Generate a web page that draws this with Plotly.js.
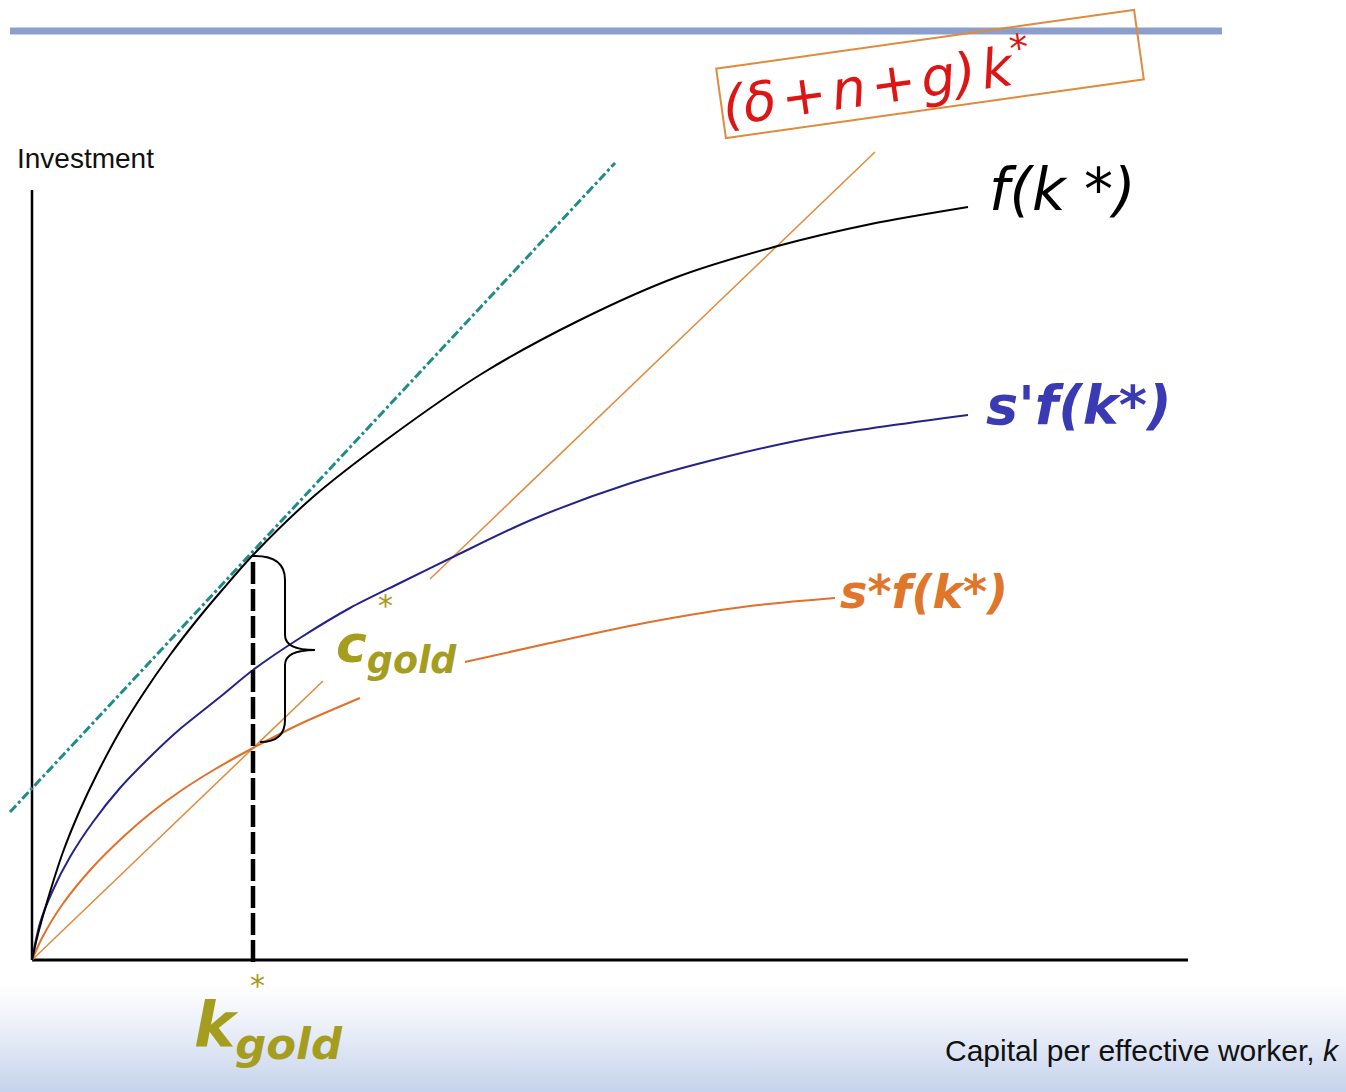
<!DOCTYPE html>
<html>
<head>
<meta charset="utf-8">
<script src="https://cdn.plot.ly/plotly-3.0.1.min.js"></script>
<style>
  html, body { margin: 0; padding: 0; }
  body { width: 1346px; height: 1092px; overflow: hidden;
    background: linear-gradient(to bottom, #ffffff 0px, #ffffff 985px, #e9eef8 1030px, #c6d3ec 1092px); }
  #chart { width: 1346px; height: 1092px; }
</style>
</head>
<body>
<div id="chart"></div>
<script>
// ---- data (k = capital per effective worker, y = investment / output) ----
const fK = [0, 0.05, 0.15, 0.31, 0.48, 0.65, 0.88, 1.11, 1.38, 1.65, 1.91, 2.21, 2.81, 3.54, 4.51, 5.48, 6.45, 7.42, 8.39, 9.36];
const fY = [0, 0.22, 0.58, 1.08, 1.50, 1.86, 2.29, 2.66, 3.05, 3.40, 3.71, 4.05, 4.63, 5.20, 5.87, 6.40, 6.83, 7.13, 7.36, 7.53];

const sPrimeK = [0, 0.08, 0.21, 0.38, 0.61, 0.88, 1.21, 1.48, 1.88, 2.21, 2.68, 3.18, 3.68, 4.23, 4.99, 5.96, 6.93, 7.90, 9.36];
const sPrimeY = [0, 0.37, 0.70, 1.03, 1.38, 1.72, 2.06, 2.31, 2.63, 2.90, 3.22, 3.52, 3.77, 4.04, 4.40, 4.76, 5.03, 5.24, 5.45];

const sStarK = [0, 0.10, 0.30, 0.60, 0.90, 1.20, 1.50, 1.80, 2.21, 2.68, 3.28, null, 4.33, 5.18, 6.18, 7.18, 8.03];
const sStarY = [0, 0.22, 0.55, 0.92, 1.22, 1.48, 1.70, 1.89, 2.12, 2.36, 2.62, null, 2.98, 3.17, 3.38, 3.54, 3.62];

const depK = [0, 2.91, null, 3.98, 8.43];
const depY = [0, 2.79, null, 3.81, 8.08];

const tangentK = [-0.22, 5.83];
const tangentY = [1.48, 7.97];

const kGold = 2.21;
const goldK = [kGold, kGold];
const goldY = [-0.02, 4.05];

const axisYK = [0, 0];       const axisYY = [0, 7.70];
const axisXK = [0, 11.56];   const axisXY = [0, 0];
const topBarK = [-0.22, 11.9]; const topBarY = [9.29, 9.29];

// ---- traces ----
const line = (x, y, color, width, dash, smooth) => ({
  x, y, type: 'scatter', mode: 'lines', hoverinfo: 'skip', showlegend: false,
  connectgaps: false,
  line: { color, width, dash: dash || 'solid', shape: smooth ? 'spline' : 'linear', smoothing: 0.8 }
});

const traces = [
  line(topBarK, topBarY, '#8c9fcc', 7),
  line(axisYK, axisYY, '#000000', 2.5),
  line(axisXK, axisXY, '#000000', 3),
  line(tangentK, tangentY, '#1f8b8b', 3, 'dashdot'),
  line(depK, depY, '#e08a3c', 1.5),
  line(sStarK, sStarY, '#e0702a', 2, null, true),
  line(sPrimeK, sPrimeY, '#232389', 2, null, true),
  line(fK, fY, '#000000', 2, null, true),
  line(goldK, goldY, '#000000', 4.5, '22px,5px')
];

const italic = (size, color, weight) => ({ family: 'DejaVu Sans', size, color, style: 'italic', weight: weight || 'normal' });
const olive = '#a59d1e';

const layout = {
  width: 1346, height: 1092,
  margin: { l: 0, r: 0, t: 0, b: 0, pad: 0 },
  paper_bgcolor: 'rgba(0,0,0,0)', plot_bgcolor: 'rgba(0,0,0,0)',
  showlegend: false,
  xaxis: { range: [-0.32, 13.14], visible: false, fixedrange: true },
  yaxis: { range: [-1.32, 9.60], visible: false, fixedrange: true },
  shapes: [{
    type: 'path', xref: 'x', yref: 'y',
    path: 'M 2.23,4.04 Q 2.53,4.04 2.53,3.80 L 2.53,3.25 Q 2.53,3.10 2.83,3.10 Q 2.53,3.10 2.53,2.95 L 2.53,2.40 Q 2.53,2.18 2.28,2.18',
    line: { color: '#000000', width: 2 }
  }],
  annotations: [
    { x: -0.17, y: 8.02, xref: 'x', yref: 'y', xanchor: 'left', yanchor: 'middle', showarrow: false,
      text: 'Investment', font: { family: 'Liberation Sans', size: 28, color: '#111111' } },
    { x: 13.10, y: -0.90, xref: 'x', yref: 'y', xanchor: 'right', yanchor: 'middle', showarrow: false,
      text: 'Capital per effective worker, <i>k</i>', font: { family: 'Liberation Sans', size: 30, color: '#111111' } },
    { x: 9.55, y: 7.70, xref: 'x', yref: 'y', xanchor: 'left', yanchor: 'middle', showarrow: false,
      text: 'f(k *)', font: italic(58, '#000000') },
    { x: 9.52, y: 5.55, xref: 'x', yref: 'y', xanchor: 'left', yanchor: 'middle', showarrow: false,
      text: "s'f(k*)", font: italic(54, '#3a3ab4', 'bold') },
    { x: 8.06, y: 3.68, xref: 'x', yref: 'y', xanchor: 'left', yanchor: 'middle', showarrow: false,
      text: 's*f(k*)', font: italic(46, '#e0762a', 'bold') },
    { x: 8.98, y: 8.86, xref: 'x', yref: 'y', xanchor: 'center', yanchor: 'middle', showarrow: false,
      text: '(δ\u200A+\u200An\u200A+\u200Ag)\u200Ak<sup>*</sup>', textangle: -8, font: italic(54, '#dd1515'),
      width: 420, height: 68, align: 'left', valign: 'middle',
      bordercolor: '#e08a3c', borderwidth: 2, borderpad: 0, bgcolor: 'rgba(255,255,255,0)' },
    { x: 3.02, y: 3.12, xref: 'x', yref: 'y', xanchor: 'left', yanchor: 'middle', showarrow: false,
      text: 'c<sub>gold</sub>', font: italic(52, olive, 'bold') },
    { x: 3.53, y: 3.55, xref: 'x', yref: 'y', xanchor: 'center', yanchor: 'middle', showarrow: false,
      text: '*', font: { family: 'DejaVu Sans', size: 30, color: olive } },
    { x: 1.60, y: -0.68, xref: 'x', yref: 'y', xanchor: 'left', yanchor: 'middle', showarrow: false,
      text: 'k<sub>gold</sub>', font: italic(62, olive, 'bold') },
    { x: 2.25, y: -0.25, xref: 'x', yref: 'y', xanchor: 'center', yanchor: 'middle', showarrow: false,
      text: '*', font: { family: 'DejaVu Sans', size: 30, color: olive } }
  ]
};

Plotly.newPlot('chart', traces, layout, { staticPlot: true, displayModeBar: false });
</script>
</body>
</html>
